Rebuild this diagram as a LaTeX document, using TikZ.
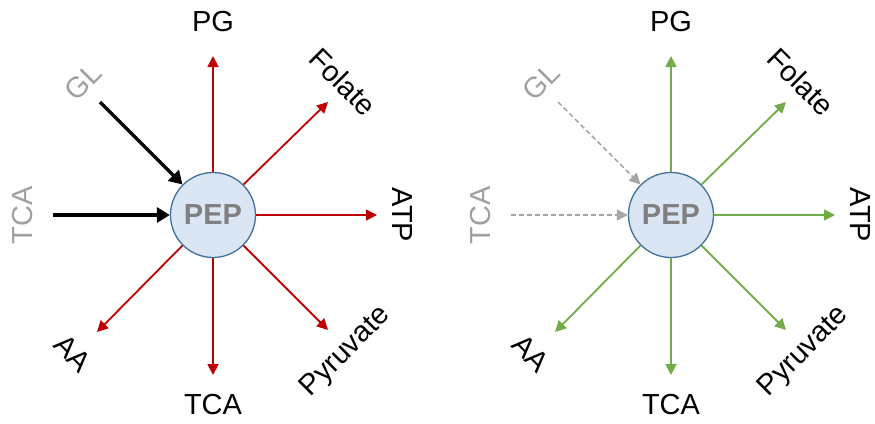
\documentclass[tikz,border=0pt]{standalone}
\usepackage{fontspec}
\setmainfont{Liberation Sans}
\usetikzlibrary{arrows.meta}
\definecolor{redarr}{HTML}{C00000}
\definecolor{greenarr}{HTML}{70AD47}
\definecolor{pepfill}{HTML}{DAE6F4}
\definecolor{pepdraw}{HTML}{41719C}
\definecolor{peptext}{HTML}{808080}
\definecolor{lightgray}{HTML}{A0A0A0}
\definecolor{dashgray}{HTML}{A6A6A6}
\tikzset{
  pepnode/.style={circle, draw=pepdraw, line width=1.3pt, fill=pepfill, minimum size=85pt, inner sep=0pt,
    font=\fontsize{29}{30}\selectfont\bfseries, text=peptext},
  lbl/.style={font=\fontsize{29}{30}\selectfont, text=black, inner sep=0pt},
  glbl/.style={lbl, text=lightgray},
  outred/.style={draw=redarr, line width=1.8pt, -{Triangle[length=11pt,width=11pt]}},
  outgreen/.style={draw=greenarr, line width=1.8pt, -{Triangle[length=11pt,width=11pt]}},
  inblack/.style={draw=black, line width=3.5pt, -{Triangle[length=13pt,width=15pt]}},
  indash/.style={draw=dashgray, line width=1.5pt, dash pattern=on 5pt off 3pt, -{Triangle[length=11pt,width=11pt]}}
}
\begin{document}
\begin{tikzpicture}[x=1pt,y=-1pt]
\useasboundingbox (0,0) rectangle (875,423);
% ---------- left panel ----------
\node[pepnode] (pepL) at (213,215) {PEP};
\coordinate (tPGL) at (213,56);
\coordinate (tFoL) at (328,102);
\coordinate (tATPL) at (377,215);
\coordinate (tPyL) at (328,330);
\coordinate (tTCAL) at (213,375);
\coordinate (tAAL) at (97,332);
\coordinate (sGLL) at (100,102);
\coordinate (sTCAL) at (53,215);
\node[lbl] (PGL) at (213,22) {PG};
\node[lbl, rotate=-45] (FoL) at (343,82) {Folate};
\node[lbl, rotate=-90] (ATPL) at (402,215) {ATP};
\node[lbl, rotate=45] (PyL) at (346,352) {Pyruvate};
\node[lbl] (TCAbL) at (213,405) {TCA};
\node[lbl, rotate=-45] (AAL) at (73,353) {AA};
\node[glbl, rotate=45] (GLL) at (83,82) {GL};
\node[glbl, rotate=90] (TCAlL) at (23,215) {TCA};
\draw[outred] (pepL.north) -- (tPGL);
\draw[outred] (pepL.45) -- (tFoL);
\draw[outred] (pepL.east) -- (tATPL);
\draw[outred] (pepL.-45) -- (tPyL);
\draw[outred] (pepL.south) -- (tTCAL);
\draw[outred] (pepL.-135) -- (tAAL);
\draw[inblack] (sGLL) -- (pepL.135);
\draw[inblack] (sTCAL) -- (pepL.west);
% ---------- right panel ----------
\node[pepnode] (pepR) at (671,215) {PEP};
\coordinate (tPGR) at (671,56);
\coordinate (tFoR) at (786,102);
\coordinate (tATPR) at (835,215);
\coordinate (tPyR) at (786,330);
\coordinate (tTCAR) at (671,375);
\coordinate (tAAR) at (555,332);
\coordinate (sGLR) at (558,102);
\coordinate (sTCAR) at (511,215);
\node[lbl] (PGR) at (671,22) {PG};
\node[lbl, rotate=-45] (FoR) at (801,82) {Folate};
\node[lbl, rotate=-90] (ATPR) at (860,215) {ATP};
\node[lbl, rotate=45] (PyR) at (804,352) {Pyruvate};
\node[lbl] (TCAbR) at (671,405) {TCA};
\node[lbl, rotate=-45] (AAR) at (531,353) {AA};
\node[glbl, rotate=45] (GLR) at (541,82) {GL};
\node[glbl, rotate=90] (TCAlR) at (481,215) {TCA};
\draw[outgreen] (pepR.north) -- (tPGR);
\draw[outgreen] (pepR.45) -- (tFoR);
\draw[outgreen] (pepR.east) -- (tATPR);
\draw[outgreen] (pepR.-45) -- (tPyR);
\draw[outgreen] (pepR.south) -- (tTCAR);
\draw[outgreen] (pepR.-135) -- (tAAR);
\draw[indash] (sGLR) -- (pepR.135);
\draw[indash] (sTCAR) -- (pepR.west);
\end{tikzpicture}
\end{document}
